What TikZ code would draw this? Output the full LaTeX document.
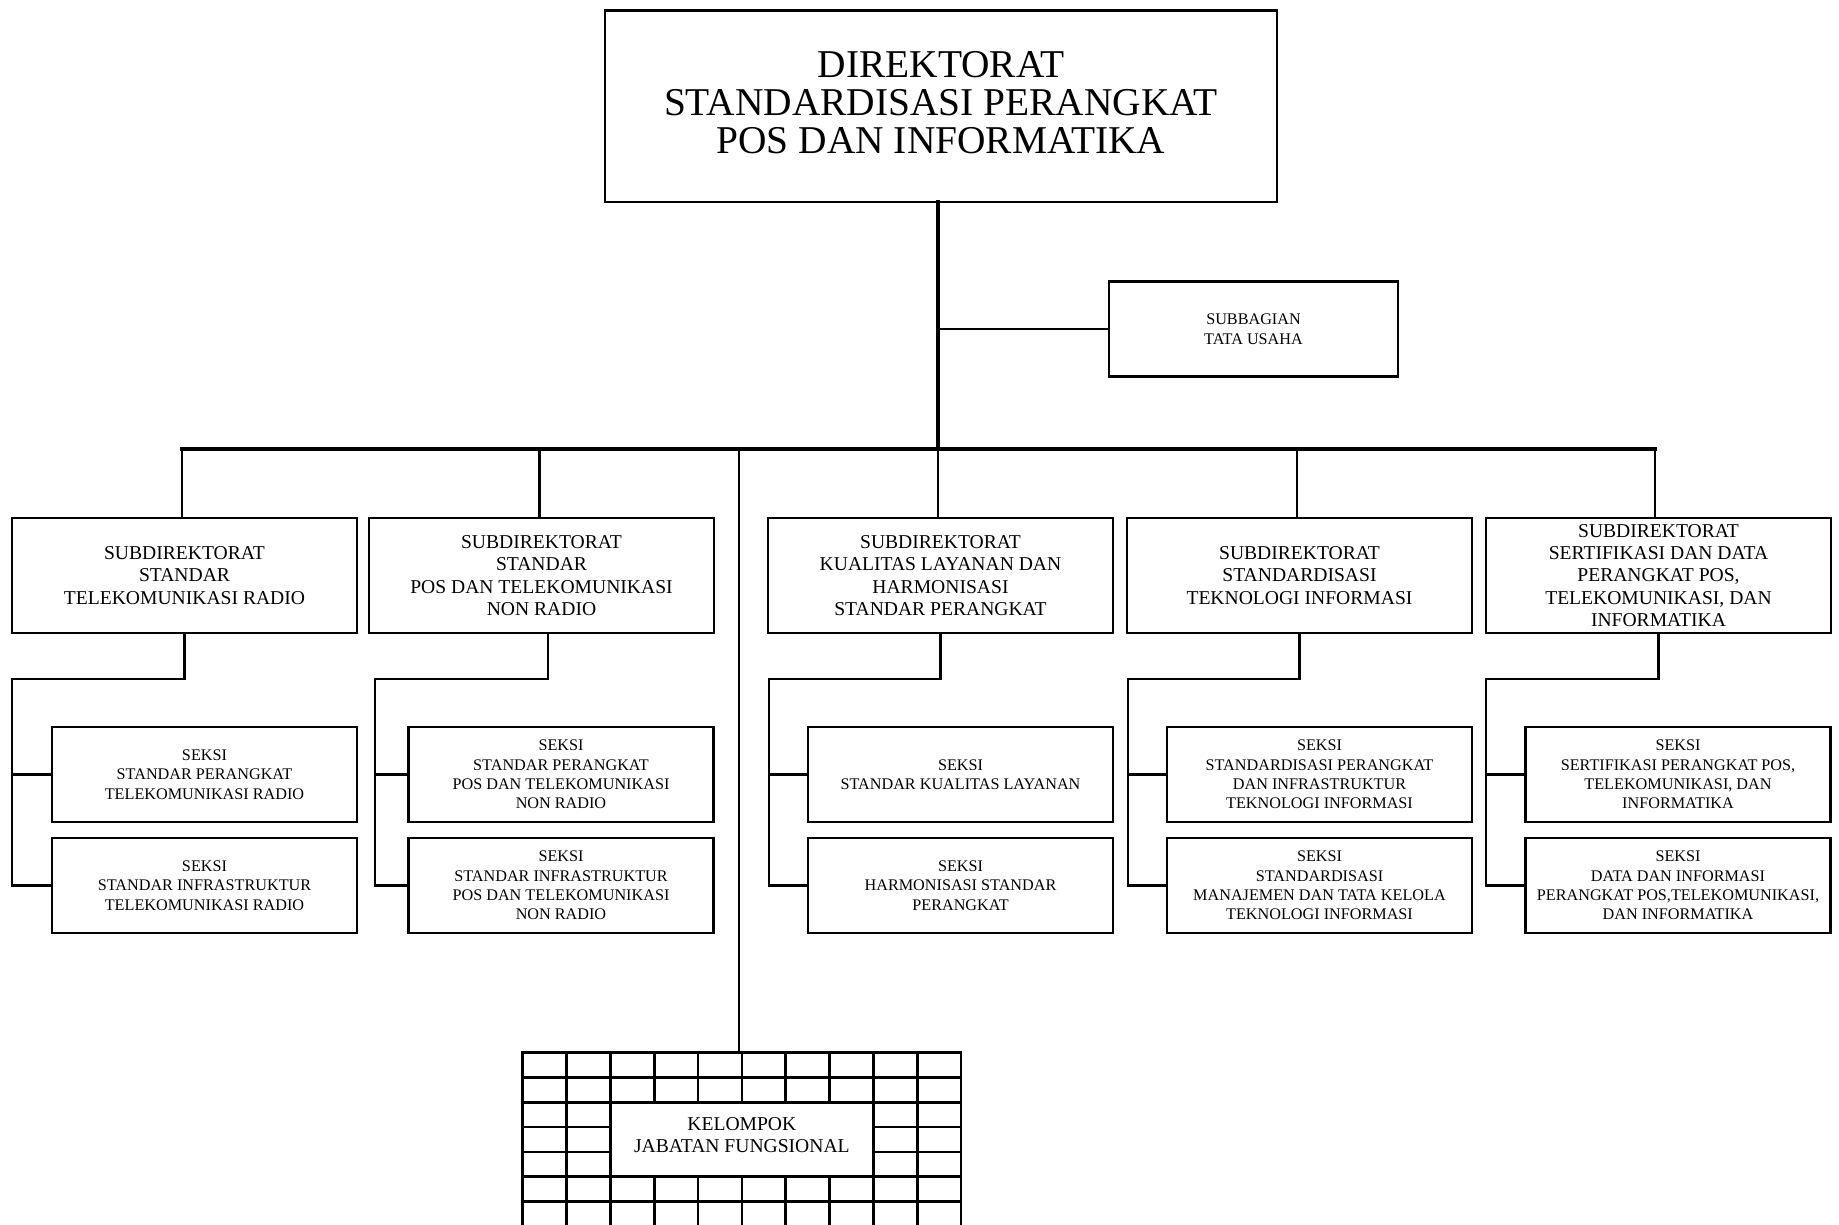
\documentclass[tikz,border=0pt]{standalone}
\usepackage{fontspec}
\setmainfont{Liberation Serif}
\begin{document}
\begin{tikzpicture}[x=1pt,y=-1pt,
  every node/.style={inner sep=0pt, outer sep=0pt, align=center},
  framed/.style={draw, line width=2.4pt, rectangle},
  topbox/.style={framed, minimum width=672pt, minimum height=191.5pt, font=\fontsize{39.4}{38}\selectfont},
  tubox/.style={framed, minimum width=289pt, minimum height=95pt, font=\fontsize{16.2}{19.6}\selectfont},
  subdir/.style={framed, minimum width=345pt, minimum height=115pt, font=\fontsize{19.6}{22.3}\selectfont},
  seksi/.style={framed, minimum width=305pt, minimum height=95pt, font=\fontsize{16.2}{19.4}\selectfont},
  conn/.style={line width=2.4pt, line cap=rect},
  trunk/.style={line width=3.2pt, line cap=rect},
  gridl/.style={line width=2.7pt}
]
\useasboundingbox (0,0) rectangle (1839,1225);
\coordinate (bus) at (0,449);

% main boxes
\node[topbox] (dir) at (941,106.25) {};
\node[font=\fontsize{39.4}{38}\selectfont] (dirt) at (941,102.5) {DIREKTORAT\\STANDARDISASI PERANGKAT\\POS DAN INFORMATIKA};
\node[tubox] (tu) at (1253.5,329) {SUBBAGIAN\\TATA USAHA};

\node[subdir] (sd1) at (184.5,575.5) {SUBDIREKTORAT\\STANDAR\\TELEKOMUNIKASI RADIO};
\node[subdir] (sd2) at (541.5,575.5) {SUBDIREKTORAT\\STANDAR\\POS DAN TELEKOMUNIKASI\\NON RADIO};
\node[subdir] (sd3) at (940.5,575.5) {SUBDIREKTORAT\\KUALITAS LAYANAN DAN\\HARMONISASI\\STANDAR PERANGKAT};
\node[subdir] (sd4) at (1299.5,575.5) {SUBDIREKTORAT\\STANDARDISASI\\TEKNOLOGI INFORMASI};
\node[subdir] (sd5) at (1658.5,575.5) {SUBDIREKTORAT\\SERTIFIKASI DAN DATA\\PERANGKAT POS,\\TELEKOMUNIKASI, DAN\\INFORMATIKA};

% seksi
\node[seksi] (sk11) at (204.5,774.5) {SEKSI\\STANDAR PERANGKAT\\TELEKOMUNIKASI RADIO};
\node[seksi] (sk12) at (204.5,885.5) {SEKSI\\STANDAR INFRASTRUKTUR\\TELEKOMUNIKASI RADIO};
\node[seksi] (sk21) at (561,774.5) {SEKSI\\STANDAR PERANGKAT\\POS DAN TELEKOMUNIKASI\\NON RADIO};
\node[seksi] (sk22) at (561,885.5) {SEKSI\\STANDAR INFRASTRUKTUR\\POS DAN TELEKOMUNIKASI\\NON RADIO};
\node[seksi] (sk31) at (960.5,774.5) {SEKSI\\STANDAR KUALITAS LAYANAN};
\node[seksi] (sk32) at (960.5,885.5) {SEKSI\\HARMONISASI STANDAR\\PERANGKAT};
\node[seksi] (sk41) at (1319.5,774.5) {SEKSI\\STANDARDISASI PERANGKAT\\DAN INFRASTRUKTUR\\TEKNOLOGI INFORMASI};
\node[seksi] (sk42) at (1319.5,885.5) {SEKSI\\STANDARDISASI\\MANAJEMEN DAN TATA KELOLA\\TEKNOLOGI INFORMASI};
\node[seksi] (sk51) at (1678,774.5) {SEKSI\\SERTIFIKASI PERANGKAT POS,\\TELEKOMUNIKASI, DAN\\INFORMATIKA};
\node[seksi] (sk52) at (1678,885.5) {SEKSI\\DATA DAN INFORMASI\\PERANGKAT POS,TELEKOMUNIKASI,\\DAN INFORMATIKA};

% kelompok jabatan fungsional grid
\node[draw, line width=2.7pt, minimum width=438.3pt, minimum height=173.6pt] (kgrid) at (741.85,1139.5) {};
\foreach \c in {1,...,9}
  \draw[gridl] ([xshift=\c*43.83pt]kgrid.north west) -- ([xshift=\c*43.83pt]kgrid.south west);
\foreach \r in {1,...,6}
  \draw[gridl] ([yshift=-\r*24.8pt]kgrid.north west) -- ([yshift=-\r*24.8pt]kgrid.north east);
\node[draw, fill=white, line width=2.7pt, minimum width=262.8pt, minimum height=74.4pt] (kel) at (kgrid.center) {};
\node[font=\fontsize{19.6}{22.3}\selectfont] (kelt) at (741.85,1135) {KELOMPOK\\JABATAN FUNGSIONAL};

% trunk and bus
\coordinate (d1) at (182,0);
\coordinate (d2) at (539.5,0);
\coordinate (d3) at (938,0);
\coordinate (d4) at (1297,0);
\coordinate (d5) at (1655,0);
\draw[trunk] (dir.south -| d3) -- (bus -| d3);
\draw[trunk] (bus -| d1) -- (bus -| d5);
\draw[conn] (tu.west) -- (tu.west -| d3);
\foreach \i in {1,...,5}
  \draw[conn] (bus -| d\i) -- (sd\i.north -| d\i);
\coordinate (kx) at (739,0);
\draw[conn] (bus -| kx) -- (kgrid.north -| kx);

% group connectors
\coordinate (r1) at (12,679);
\coordinate (r2) at (375,679);
\coordinate (r3) at (769,679);
\coordinate (r4) at (1128,679);
\coordinate (r5) at (1486,679);
\coordinate (s2) at (548,0);
\draw[conn] (sd1.south) |- (r1) -- (r1 |- sk12.west) -- (sk12.west);
\draw[conn] (r1 |- sk11.west) -- (sk11.west);
\draw[conn] (sd2.south -| s2) |- (r2) -- (r2 |- sk22.west) -- (sk22.west);
\draw[conn] (r2 |- sk21.west) -- (sk21.west);
\draw[conn] (sd3.south) |- (r3) -- (r3 |- sk32.west) -- (sk32.west);
\draw[conn] (r3 |- sk31.west) -- (sk31.west);
\draw[conn] (sd4.south) |- (r4) -- (r4 |- sk42.west) -- (sk42.west);
\draw[conn] (r4 |- sk41.west) -- (sk41.west);
\draw[conn] (sd5.south) |- (r5) -- (r5 |- sk52.west) -- (sk52.west);
\draw[conn] (r5 |- sk51.west) -- (sk51.west);
\end{tikzpicture}
\end{document}
